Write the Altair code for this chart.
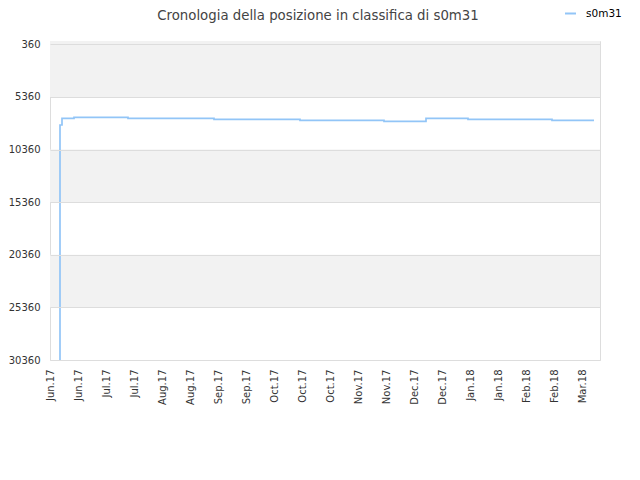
import altair as alt
import pandas as pd

# --- data ---
dates = ["2017-06-16", "2017-06-16", "2017-06-17", "2017-06-23", "2017-07-20",
         "2017-09-01", "2017-10-14", "2017-11-25", "2017-12-16", "2018-01-06",
         "2018-02-17", "2018-03-10"]
ranks = [30360, 8030, 7407, 7313, 7407, 7500, 7595, 7690, 7407, 7500, 7595, 7595]
series_name = "s0m31"

tick_dates = ["2017-06-11", "2017-06-25", "2017-07-09", "2017-07-23", "2017-08-06",
              "2017-08-20", "2017-09-03", "2017-09-17", "2017-10-01", "2017-10-15",
              "2017-10-29", "2017-11-12", "2017-11-26", "2017-12-10", "2017-12-24",
              "2018-01-07", "2018-01-21", "2018-02-04", "2018-02-18", "2018-03-04"]
y_ticks = [360, 5360, 10360, 15360, 20360, 25360, 30360]
band_lo = [50, 10360, 20360]
band_hi = [5360, 15360, 25360]

x_start, x_end = "2017-06-11", "2018-03-13"
y_top, y_bottom = 50, 30360


def ms(d):
    return int(pd.Timestamp(d).value // 10**6)


df = pd.DataFrame({"date": dates, "rank": ranks, "series": series_name})
bands = pd.DataFrame({"lo": band_lo, "hi": band_hi})

xscale = alt.Scale(type="utc", domain=[ms(x_start), ms(x_end)])
yscale = alt.Scale(domain=[y_top, y_bottom], reverse=True, nice=False, zero=False)

FONT = "DejaVu Sans"

rects = alt.Chart(bands).mark_rect(color="#f2f2f2").encode(
    y=alt.Y("lo:Q", scale=yscale, title=None),
    y2="hi:Q",
    x=alt.value(0),
    x2=alt.value(550),
)

line = alt.Chart(df).mark_line(interpolate="step-after", strokeWidth=1.7).encode(
    x=alt.X("date:T", scale=xscale, title=None,
            axis=alt.Axis(values=[ms(d) for d in tick_dates], format="%b.%y",
                          labelAngle=-90, labelFontSize=10, labelColor="#333",
                          labelFont=FONT, ticks=False, domain=False, grid=False,
                          labelPadding=9, labelOverlap=False)),
    y=alt.Y("rank:Q", scale=yscale, title=None,
            axis=alt.Axis(values=y_ticks, format="d", labelFontSize=10,
                          labelColor="#333", labelFont=FONT, ticks=False,
                          domain=False, grid=True, gridColor="#dddddd",
                          labelPadding=10, zindex=1, labelOverlap=False)),
    color=alt.Color("series:N", scale=alt.Scale(range=["#92c5f7"]),
                    legend=alt.Legend(orient="none", legendX=514, legendY=-34,
                                      title=None, symbolType="stroke",
                                      symbolSize=120, symbolStrokeWidth=2,
                                      labelFont=FONT, labelFontSize=10.5,
                                      labelColor="#000", labelOffset=9,
                                      padding=0)),
)

chart = alt.layer(rects, line).properties(
    width=550,
    height=319,
    autosize=alt.AutoSizeParams(type="none"),
    padding={"left": 42, "top": 33, "right": 32, "bottom": 112},
    title=alt.TitleParams("Cronologia della posizione in classifica di s0m31",
                          font=FONT, fontSize=13.3, fontWeight="normal",
                          color="#444", anchor="middle", dx=-7, offset=-15),
).configure_view(stroke="#dddddd")

chart.save("out.html", embed_options={"renderer": "svg", "actions": False})
